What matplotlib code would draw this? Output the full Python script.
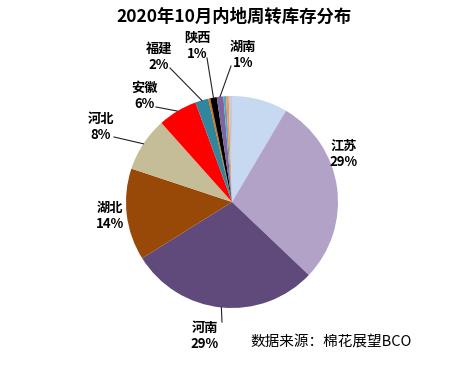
import numpy as np
import matplotlib
matplotlib.use('Agg')
from matplotlib import pyplot as plt

plt.rcParams['font.family'] = ['Noto Sans CJK SC', 'DejaVu Sans']

# slices, clockwise from 12 o'clock (values in %)
regions = ['其他', '江苏', '河南', '湖北', '河北', '安徽', '福建', '其他2',
           '陕西', '湖南', '其他3', '其他4', '其他5', '其他6']
shares = [8.5, 28.6, 29.0, 14.0, 8.3, 6.0, 2.0, 0.3, 1.0, 1.0, 0.4, 0.4, 0.3, 0.2]
colors = ['#C6D9F1', '#B3A2C7', '#604A7B', '#984807', '#C4BD97', '#FF0000',
          '#31859C', '#E46C0A', '#000000', '#8064A2', '#4BACC6', '#F79646',
          '#CCC1DA', '#B9CDE5']
shown = ['江苏', '河南', '湖北', '河北', '安徽', '福建', '陕西', '湖南']

W, H = 460, 367
CX, CY, R = 232, 202, 106

# label centre (pixel coords) and leader line bend point (None = no line)
label_pos = {
    '江苏': (344, 154, None),
    '河南': (205, 336, (222, 322)),
    '湖北': (110, 216, None),
    '河北': (101, 127, (114, 137)),
    '安徽': (145, 96, (156, 107)),
    '福建': (159, 57, (170, 68)),
    '陕西': (197, 46, (207, 58)),
    '湖南': (243, 55, (231, 66)),
}

fig = plt.figure(figsize=(W / 100, H / 100), dpi=100)
ax = fig.add_axes([0, 0, 1, 1])

wedges, _ = ax.pie(shares, colors=colors, startangle=90, counterclock=False,
                   center=(CX, H - CY), radius=R,
                   wedgeprops=dict(linewidth=0))

ax.set_xlim(0, W)
ax.set_ylim(0, H)
ax.set_aspect('equal')
ax.axis('off')

for w, name, val in zip(wedges, regions, shares):
    if name not in shown:
        continue
    lx, ly, bend = label_pos[name]
    ax.text(lx, H - ly, '%s\n%d%%' % (name, round(val)), ha='center', va='center',
            fontsize=9.5, fontweight='bold', linespacing=1.25)
    if bend is not None:
        mid = np.deg2rad((w.theta1 + w.theta2) / 2)
        px = CX + R * np.cos(mid)
        py = H - CY + R * np.sin(mid)
        ax.plot([bend[0], px], [H - bend[1], py], color='#222222', lw=0.8)

fig.text(234 / W, 1 - 17 / H, '2020年10月内地周转库存分布', ha='center', va='center',
         fontsize=12.5, fontweight='bold')
fig.text(250 / W, 1 - 342 / H, '数据来源：棉花展望BCO', ha='left', va='center',
         fontsize=10.5)

fig.savefig('out.png', dpi=100, facecolor='white')
